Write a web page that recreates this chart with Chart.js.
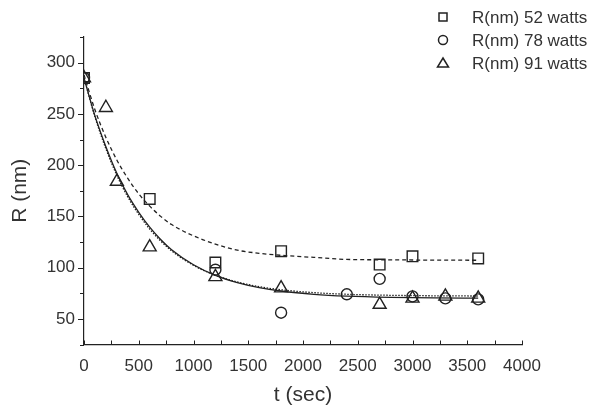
<!DOCTYPE html>
<html>
<head>
<meta charset="utf-8">
<script src="https://cdn.jsdelivr.net/npm/chart.js@4/dist/chart.umd.min.js"></script>
<style>
  body { margin: 0; background: #fff; }
  #wrap { width: 598px; height: 408px; }
</style>
</head>
<body>
<div id="wrap"><canvas id="myChart" width="598" height="408"></canvas></div>
<script>
// measured points (t in sec, R in nm)
const t52 = [0, 600, 1200, 1800, 2700, 3000, 3600];
const r52 = [285, 167, 105, 116, 103, 111, 109];

const t78 = [0, 1200, 1800, 2400, 2700, 3000, 3300, 3600];
const r78 = [285, 98, 56, 74, 89, 72, 70, 69];

const t91 = [0, 200, 300, 600, 1200, 1800, 2700, 3000, 3300, 3600];
const r91 = [285, 256, 184, 120, 91, 80, 64, 70, 72, 70];

// fitted curves
const tFit = [0, 100, 200, 300, 400, 500, 600, 700, 800, 1000, 1200, 1400, 1600, 1800, 2100, 2400, 2800, 3200, 3600];
const fit52 = [288, 254, 227, 205, 187, 172, 160, 150, 142, 131, 123, 117, 114, 112, 110, 108, 107.6, 107.3, 107.2];
const fit78 = [285, 248, 218, 192, 171, 154, 139.5, 127.5, 117.5, 102.8, 92.5, 85.4, 80.5, 77.2, 74, 72.2, 71, 70.4, 70.2];
const fit91 = [285, 247, 216, 190, 169, 152, 137.6, 126, 116.4, 102.2, 92.6, 86, 81.4, 78.4, 75.6, 74, 73, 72.5, 72.3];

const xTicks = [0, 500, 1000, 1500, 2000, 2500, 3000, 3500, 4000];
const yTicks = [50, 100, 150, 200, 250, 300];

const legendLabels = ["R(nm) 52 watts", "R(nm) 78 watts", "R(nm) 91 watts"];
const legendShapes = ["rect", "circle", "triangle"];

const ink = "#222";
const textColor = "#333";
const fontName = "'Liberation Sans', Arial, sans-serif";

function pts(xs, ys) {
    return xs.map((x, i) => ({ x: x, y: ys[i] }));
}

function fitLine(ys, dash) {
    return {
        type: "line",
        data: pts(tFit, ys),
        borderColor: ink,
        borderWidth: 1.3,
        borderDash: dash,
        pointRadius: 0,
        cubicInterpolationMode: "monotone",
        fill: false,
    };
}

function marks(xs, ys, shape, radius) {
    return {
        type: "scatter",
        data: pts(xs, ys),
        pointStyle: shape,
        pointRadius: radius,
        pointBorderColor: ink,
        pointBackgroundColor: "rgba(0,0,0,0)",
        pointBorderWidth: 1.4,
        showLine: false,
    };
}

// small tick marks on both axes (minor ones included)
const tickMarks = {
    id: "tickMarks",
    afterDraw(chart) {
        const c = chart.ctx;
        const xs = chart.scales.x;
        const ys = chart.scales.y;
        c.save();
        c.strokeStyle = ink;
        c.lineWidth = 1;
        c.beginPath();
        for (let v = 0; v <= 4000; v += 250) {
            const px = Math.round(xs.getPixelForValue(v)) + 0.5;
            c.moveTo(px, xs.top);
            c.lineTo(px, xs.top - 4);
        }
        for (let v = 25; v <= 325; v += 25) {
            const py = Math.round(ys.getPixelForValue(v)) + 0.5;
            const len = v % 50 === 0 ? 6 : 4;
            c.moveTo(ys.right, py);
            c.lineTo(ys.right - len, py);
        }
        c.stroke();
        c.restore();
    },
};

// vertical legend in the top right corner
const cornerLegend = {
    id: "cornerLegend",
    afterDraw(chart) {
        const c = chart.ctx;
        c.save();
        c.strokeStyle = ink;
        c.lineWidth = 1.5;
        c.fillStyle = textColor;
        c.font = "17px " + fontName;
        c.textBaseline = "middle";
        legendLabels.forEach((label, i) => {
            const mx = 443;
            const my = 17 + i * 23;
            c.beginPath();
            if (legendShapes[i] === "rect") {
                c.rect(mx - 4, my - 4, 8, 8);
            } else if (legendShapes[i] === "circle") {
                c.arc(mx, my, 4.5, 0, Math.PI * 2);
            } else {
                c.moveTo(mx, my - 5);
                c.lineTo(mx + 5.5, my + 4);
                c.lineTo(mx - 5.5, my + 4);
                c.closePath();
            }
            c.stroke();
            c.fillText(label, 472, my + 1);
        });
        c.restore();
    },
};

const ctx = document.getElementById("myChart").getContext("2d");
const myChart = new Chart(ctx, {
    data: {
        datasets: [
            fitLine(fit52, [4, 3]),
            fitLine(fit78, []),
            fitLine(fit91, [1.5, 1.5]),
            marks(t52, r52, "rect", 7.5),
            marks(t78, r78, "circle", 5.5),
            marks(t91, r91, "triangle", 7.5),
        ],
    },
    options: {
        responsive: false,
        animation: false,
        layout: { padding: { top: 37, right: 76, bottom: 0, left: 0 } },
        plugins: {
            legend: { display: false },
            tooltip: { enabled: false },
        },
        scales: {
            x: {
                type: "linear",
                min: 0,
                max: 4000,
                afterFit: (s) => { s.height = 63.5; },
                afterBuildTicks: (s) => { s.ticks = xTicks.map((v) => ({ value: v })); },
                grid: { display: false, drawTicks: false },
                border: { color: ink, width: 1.2 },
                ticks: {
                    color: textColor,
                    font: { family: fontName, size: 17 },
                    padding: 12,
                    maxRotation: 0,
                    callback: (v) => String(v),
                },
                title: {
                    display: true,
                    text: "t (sec)",
                    color: textColor,
                    font: { family: fontName, size: 21 },
                    padding: { top: 0, bottom: 0 },
                },
            },
            y: {
                type: "linear",
                min: 25,
                max: 325,
                afterFit: (s) => { s.width = 84; },
                afterBuildTicks: (s) => { s.ticks = yTicks.map((v) => ({ value: v })); },
                grid: { display: false, drawTicks: false },
                border: { color: ink, width: 1.2 },
                ticks: {
                    color: textColor,
                    font: { family: fontName, size: 17 },
                    padding: 9,
                    callback: (v) => String(v),
                },
                title: {
                    display: true,
                    text: "R (nm)",
                    color: textColor,
                    font: { family: fontName, size: 21 },
                    padding: { top: 8, bottom: 0 },
                },
            },
        },
    },
    plugins: [tickMarks, cornerLegend],
});
</script>
</body>
</html>
